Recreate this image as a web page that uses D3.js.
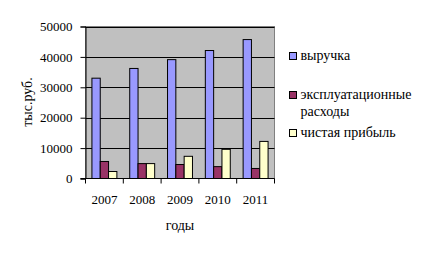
<!DOCTYPE html>
<html>
<head>
<meta charset="utf-8">
<script src="https://cdn.jsdelivr.net/npm/d3@7"></script>
<style>
  body { margin: 0; background: #fff; }
  svg text { font-family: "Liberation Serif", "Times New Roman", serif; font-size: 13px; fill: #000; }
  svg text.cyr { font-size: 14px; }
</style>
</head>
<body>
<div id="chart"></div>
<script>
const years = ["2007", "2008", "2009", "2010", "2011"];
const seriesNames = ["выручка", "эксплуатационные расходы", "чистая прибыль"];
const revenue = [33000, 36200, 39100, 42100, 45700];
const expenses = [5600, 4900, 4600, 3900, 3300];
const profit = [2300, 4900, 7300, 9600, 12200];
const yTicks = [0, 10000, 20000, 30000, 40000, 50000];
const colors = ["#9999FF", "#993366", "#FFFFCC"];

const W = 422, H = 254;
const plot = { left: 85.5, right: 274.5, top: 26.5, bottom: 178.5 };
const serif = "'Liberation Serif', 'Times New Roman', serif";

const svg = d3.select("#chart").append("svg")
    .attr("width", W)
    .attr("height", H)
    .attr("font-family", serif);

const x = d3.scaleBand()
    .domain(years)
    .range([plot.left, plot.right])
    .paddingInner(0.34)
    .paddingOuter(0.17);

const xSub = d3.scaleBand()
    .domain(d3.range(seriesNames.length))
    .range([0, x.bandwidth()]);

const y = d3.scaleLinear()
    .domain([0, 50000])
    .range([plot.bottom, plot.top]);

// plot area
svg.append("rect")
    .attr("x", plot.left)
    .attr("y", plot.top)
    .attr("width", plot.right - plot.left)
    .attr("height", plot.bottom - plot.top)
    .attr("fill", "#C0C0C0")
    .attr("stroke", "#808080")
    .attr("stroke-width", 1);

// gridlines
svg.selectAll(".grid")
    .data(yTicks.filter(d => d > 0))
    .enter()
    .append("line")
    .attr("x1", plot.left)
    .attr("x2", plot.right)
    .attr("y1", d => Math.round(y(d)) + 0.5)
    .attr("y2", d => Math.round(y(d)) + 0.5)
    .attr("stroke", "#000");

// bars
const data = years.map((yr, i) => ({ year: yr, values: [revenue[i], expenses[i], profit[i]] }));

const groups = svg.selectAll(".group")
    .data(data)
    .enter()
    .append("g")
    .attr("transform", d => `translate(${x(d.year)},0)`);

groups.selectAll("rect")
    .data(d => d.values.map((v, k) => ({ k: k, v: v })))
    .enter()
    .append("rect")
    .attr("x", d => xSub(d.k))
    .attr("y", d => y(d.v))
    .attr("width", xSub.bandwidth())
    .attr("height", d => y(0) - y(d.v))
    .attr("fill", d => colors[d.k])
    .attr("stroke", "#000")
    .attr("stroke-width", 1);

// y axis
const yAxis = svg.append("g")
    .attr("transform", `translate(${plot.left},0)`)
    .call(d3.axisLeft(y).tickValues(yTicks).tickSize(5).tickPadding(8).tickFormat(d3.format("d")));
yAxis.attr("font-family", serif).attr("font-size", 13);
yAxis.select(".domain").attr("stroke", "#000");

// x axis
const xAxis = svg.append("g")
    .attr("transform", `translate(0,${plot.bottom})`);
xAxis.append("line")
    .attr("x1", plot.left - 5)
    .attr("x2", plot.right)
    .attr("y1", 0)
    .attr("y2", 0)
    .attr("stroke", "#000");
const step = x.step();
xAxis.selectAll(".tk")
    .data(d3.range(years.length + 1))
    .enter()
    .append("line")
    .attr("x1", i => plot.left + i * step)
    .attr("x2", i => plot.left + i * step)
    .attr("y1", 0)
    .attr("y2", 5)
    .attr("stroke", "#000");
xAxis.selectAll(".lbl")
    .data(years)
    .enter()
    .append("text")
    .attr("x", d => x(d) + x.bandwidth() / 2)
    .attr("y", 25)
    .attr("text-anchor", "middle")
    .text(d => d);

// axis titles
svg.append("text")
    .attr("class", "cyr")
    .attr("x", 180)
    .attr("y", 230)
    .attr("text-anchor", "middle")
    .text("годы");

svg.append("text")
    .attr("class", "cyr")
    .attr("transform", `translate(32,102) rotate(-90)`)
    .attr("text-anchor", "middle")
    .text("тыс.руб.");

// legend
const legendRows = [
    { lines: ["выручка"], y: 60 },
    { lines: ["эксплуатационные", "расходы"], y: 99 },
    { lines: ["чистая прибыль"], y: 137 }
];
const legend = svg.append("g");
legendRows.forEach((row, i) => {
    legend.append("rect")
        .attr("x", 289.5)
        .attr("y", row.y - 7.5)
        .attr("width", 7)
        .attr("height", 7)
        .attr("fill", colors[i])
        .attr("stroke", "#000");
    row.lines.forEach((ln, j) => {
        legend.append("text")
            .attr("class", "cyr")
            .attr("x", 300.5)
            .attr("y", row.y + j * 17)
            .text(ln);
    });
});
</script>
</body>
</html>
